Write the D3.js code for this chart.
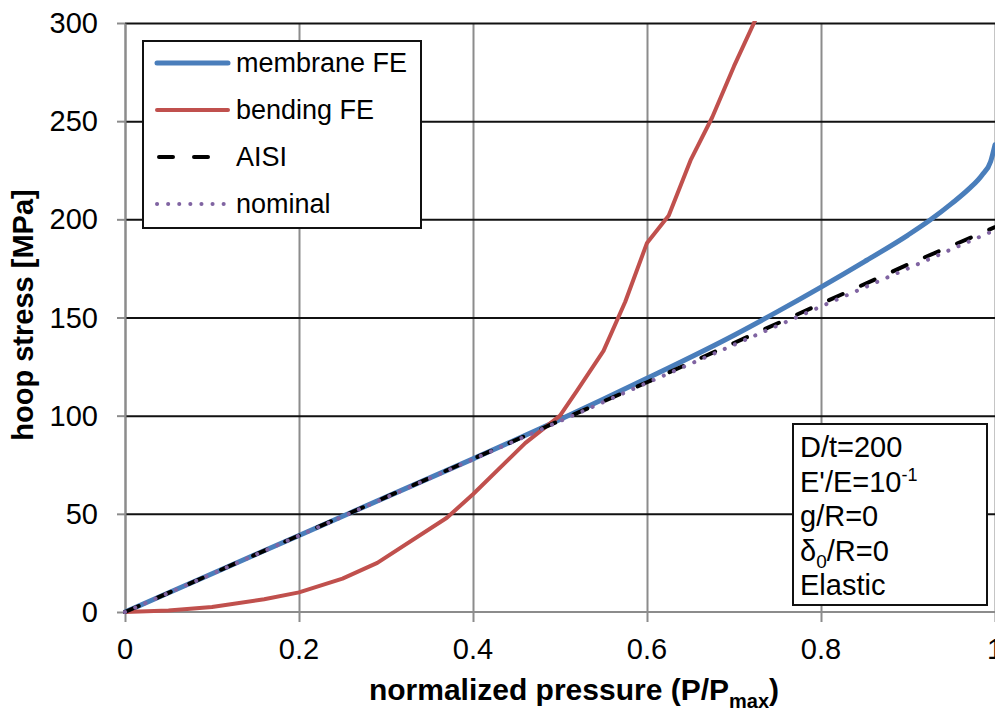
<!DOCTYPE html>
<html>
<head>
<meta charset="utf-8">
<script src="https://cdn.jsdelivr.net/npm/d3@7/dist/d3.min.js"></script>
<style>
    body { margin: 0; background: #fff; }
    svg { font-family: "Liberation Sans", Arial, sans-serif; }
</style>
</head>
<body>
<svg id="chart" width="995" height="711"></svg>
<script>
// values
const membraneX = [0, 0.1, 0.2, 0.3, 0.4, 0.5, 0.6, 0.7, 0.75, 0.8, 0.85, 0.9, 0.925, 0.95, 0.97, 0.985, 0.995, 1.0];
const membraneY = [0, 19.5, 39, 58.5, 78, 98, 119, 141, 153, 165.5, 178.5, 192, 199.5, 208, 215.5, 222.5, 229.5, 238];

const bendingX = [0, 0.05, 0.1, 0.16, 0.2, 0.25, 0.29, 0.37, 0.4, 0.46, 0.5, 0.52, 0.55, 0.575, 0.6, 0.625, 0.65, 0.675, 0.7, 0.725];
const bendingY = [0, 0.8, 2.5, 6.5, 10, 17, 25, 48, 60, 86, 100, 113, 133, 158, 188, 202, 230, 252, 278, 302];

const aisiX = [0, 0.1, 0.2, 0.3, 0.4, 0.5, 0.6, 0.7, 0.8, 0.9, 1.0];
const aisiY = [0, 19.5, 39, 58.5, 78, 97.5, 117, 137, 157, 177, 196];

const nominalX = [0, 0.1, 0.2, 0.3, 0.4, 0.5, 0.6, 0.7, 0.8, 0.9, 1.0];
const nominalY = [0, 19.4, 38.9, 58.3, 77.8, 97.2, 116.7, 136.1, 155.6, 175, 194.5];

const xTicks = [0, 0.2, 0.4, 0.6, 0.8, 1];
const yTicks = [0, 50, 100, 150, 200, 250, 300];
const legendNames = ["membrane FE", "bending FE", "AISI", "nominal"];
const noteLines = ["D/t=200", "E'/E=10", "g/R=0", "δ/R=0", "Elastic"];

const svg = d3.select("#chart");
const margin = {left: 125, top: 23, right: 0, bottom: 99};
const W = 995 - margin.left - margin.right;
const H = 711 - margin.top - margin.bottom;

const x = d3.scaleLinear().domain([0, 1]).range([0, W]);
const y = d3.scaleLinear().domain([0, 300]).range([H, 0]);

const g = svg.append("g").attr("transform", "translate(" + margin.left + "," + margin.top + ")");

// vertical grid (grey), with ticks hanging under the axis
g.append("g")
    .attr("transform", "translate(0," + H + ")")
    .call(d3.axisBottom(x).tickValues(xTicks).tickSize(-H).tickSizeOuter(0).tickFormat(""))
    .call(s => s.select(".domain").remove())
    .call(s => s.selectAll("line").attr("stroke", "#8c8c8c").attr("stroke-width", 2).attr("y2", -H).attr("y1", 10));

// horizontal grid (black)
g.append("g")
    .call(d3.axisLeft(y).tickValues(yTicks.filter(d => d > 0)).tickSize(-W).tickFormat(""))
    .call(s => s.select(".domain").remove())
    .call(s => s.selectAll("line").attr("stroke", "#111").attr("stroke-width", 2));

// axes lines
g.append("line").attr("x1", 0).attr("x2", W).attr("y1", H).attr("y2", H)
    .attr("stroke", "#8c8c8c").attr("stroke-width", 2);
g.append("g")
    .call(d3.axisLeft(y).tickValues(yTicks).tickSize(8).tickSizeOuter(0).tickFormat(""))
    .call(s => s.selectAll("line,path").attr("stroke", "#8c8c8c").attr("stroke-width", 2));

// tick labels
g.selectAll(".ylab").data(yTicks).enter().append("text")
    .attr("x", -27).attr("y", d => y(d) + 10)
    .attr("text-anchor", "end").attr("font-size", 29).text(d => d);
g.selectAll(".xlab").data(xTicks).enter().append("text")
    .attr("x", d => x(d)).attr("y", H + 47)
    .attr("text-anchor", "middle").attr("font-size", 29).text(d => d);

// axis titles
const xt = svg.append("text").attr("x", 574).attr("y", 700).attr("text-anchor", "middle")
    .attr("font-size", 30).attr("font-weight", "bold");
xt.append("tspan").text("normalized pressure (P/P");
xt.append("tspan").attr("font-size", 20).attr("dy", 8).text("max");
xt.append("tspan").attr("dy", -8).text(")");

svg.append("text").attr("transform", "translate(33,315) rotate(-90)")
    .attr("text-anchor", "middle").attr("font-size", 29).attr("font-weight", "bold")
    .text("hoop stress [MPa]");

// clip to plot area
svg.append("clipPath").attr("id", "clip").append("rect")
    .attr("x", -2).attr("y", -2).attr("width", W + 4).attr("height", H + 4);

const pair = (xs, ys) => xs.map((v, i) => [v, ys[i]]);

const series = [
    {data: pair(membraneX, membraneY), color: "#4a7ebb", width: 5, dash: null, curve: d3.curveMonotoneX},
    {data: pair(bendingX, bendingY), color: "#c0504d", width: 4, dash: null, curve: d3.curveLinear},
    {data: pair(aisiX, aisiY), color: "#000", width: 4, dash: "15,20", curve: d3.curveLinear},
    {data: pair(nominalX, nominalY), color: "#8064a2", width: 4, dash: "0.1,11", curve: d3.curveLinear}
];

const plot = g.append("g").attr("clip-path", "url(#clip)");
plot.selectAll("path.s").data(series).enter().append("path")
    .attr("class", "s")
    .attr("d", d => d3.line().curve(d.curve).x(p => x(p[0])).y(p => y(p[1]))(d.data))
    .attr("fill", "none")
    .attr("stroke", d => d.color)
    .attr("stroke-width", d => d.width)
    .attr("stroke-dasharray", d => d.dash)
    .attr("stroke-linecap", "round")
    .attr("stroke-linejoin", "round");

// legend
const leg = svg.append("g");
leg.append("rect").attr("x", 143).attr("y", 41).attr("width", 278).attr("height", 187)
    .attr("fill", "#fff").attr("stroke", "#111").attr("stroke-width", 2);
series.forEach((s, i) => {
    const ly = 63 + i * 47;
    leg.append("line").attr("x1", i === 2 ? 159 : 157).attr("x2", i === 3 ? 224 : 228).attr("y1", ly).attr("y2", ly)
        .attr("stroke", s.color).attr("stroke-width", s.width)
        .attr("stroke-dasharray", i === 2 ? "14,21" : (i === 3 ? "0.1,11" : null))
        .attr("stroke-linecap", "round");
    leg.append("text").attr("x", 236).attr("y", ly + 9).attr("font-size", 27).text(legendNames[i]);
});

// note box
const note = svg.append("g");
note.append("rect").attr("x", 793).attr("y", 424).attr("width", 194).attr("height", 181)
    .attr("fill", "#fff").attr("stroke", "#111").attr("stroke-width", 2);
noteLines.forEach((t, i) => {
    const ty = 457 + i * 34.5;
    const tx = note.append("text").attr("x", 800).attr("y", ty).attr("font-size", 29).attr("fill", "#000");
    if (i === 1) {
        tx.append("tspan").text(t);
        tx.append("tspan").attr("font-size", 18).attr("dy", -11).text("-1");
    } else if (i === 3) {
        tx.append("tspan").text("δ");
        tx.append("tspan").attr("font-size", 19).attr("dy", 7).text("0");
        tx.append("tspan").attr("dy", -7).text("/R=0");
    } else {
        tx.text(t);
    }
});
</script>
</body>
</html>
